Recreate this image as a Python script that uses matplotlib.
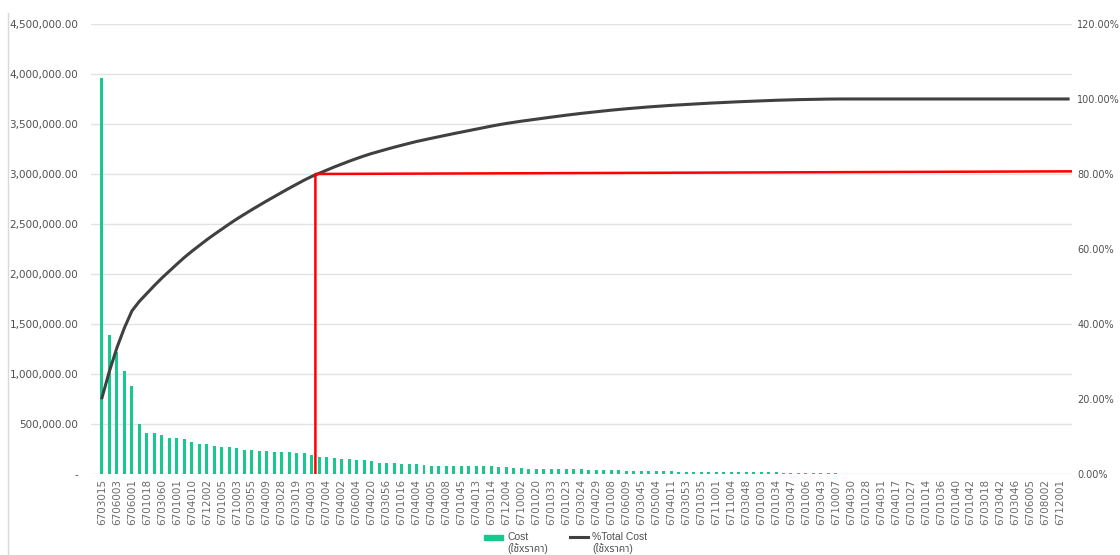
import matplotlib
matplotlib.use("Agg")
import matplotlib.pyplot as plt
import numpy as np
from matplotlib.lines import Line2D
from matplotlib.patches import Rectangle
from matplotlib.ticker import FuncFormatter

# cost per part number (baht), sorted high -> low
cost = [3960000, 1390000, 1220000, 1030000, 880000, 500000, 410000, 410000, 390000, 360000,
        360000, 350000, 320000, 300000, 300000, 280000, 270000, 270000, 260000, 240000,
        240000, 230000, 230000, 220000, 220000, 220000, 210000, 210000, 190000, 165000,
        165000, 162000, 152000, 148000, 142000, 135000, 125000, 112000, 108000, 108000,
        102000, 98000, 98000, 86000, 82000, 82000, 82000, 80000, 78000, 78000,
        78000, 78000, 76000, 72000, 66000, 60000, 58000, 54000, 53000, 52000,
        52000, 52000, 49000, 48000, 46000, 43000, 42000, 42000, 40000, 38000,
        34000, 33000, 32000, 32000, 28000, 27000, 26000, 23000, 23000, 22000,
        22000, 22000, 20000, 19000, 19000, 17000, 16000, 16000, 15000, 15000,
        15000, 13000, 12000, 9000, 8000, 8000, 7000, 6000, 5000] + [0] * 31

# part numbers shown on the axis (every second item)
part_labels = ["6703015", "6706003", "6706001", "6701018", "6703060", "6701001", "6704010",
               "6712002", "6701005", "6710003", "6703055", "6704009", "6703028", "6703019",
               "6704003", "6707004", "6704002", "6706004", "6704020", "6703056", "6701016",
               "6704004", "6704005", "6704008", "6701045", "6704013", "6703014", "6712004",
               "6710002", "6701020", "6701033", "6701023", "6703024", "6704029", "6701008",
               "6706009", "6703045", "6705004", "6704011", "6703053", "6701035", "6711001",
               "6711004", "6703048", "6701003", "6701034", "6703047", "6701006", "6703043",
               "6710007", "6704030", "6701028", "6704031", "6704017", "6701027", "6701014",
               "6701036", "6701040", "6701042", "6703018", "6703042", "6703046", "6706005",
               "6708002", "6712001"]

series_names = ["Cost", "%Total Cost"]
unit_note = "(ใช้xราคา)"

cutoff = 0.80
cutoff_end = 0.807

cost = np.array(cost, dtype=float)
n = len(cost)
x = np.arange(n)
cum = np.cumsum(cost) / cost.sum()
cut_idx = int(np.argmax(cum >= cutoff))

green = "#17C98F"
grey_txt = "#505050"
W, H = 1120, 555

fig = plt.figure(figsize=(11.2, 5.55), dpi=100)
ax = fig.add_axes([0.081, 0.146, 0.876, 0.8108])
ax2 = ax.twinx()

ax.bar(x, cost, width=0.4, color=green, zorder=3)
ax.set_xlim(-1.5, n - 0.5)
ax.set_ylim(0, 4500000)
ax.set_yticks(np.arange(0, 4500001, 500000))
ax.yaxis.set_major_formatter(FuncFormatter(lambda v, p: "-" if v == 0 else "{:,.2f}".format(v)))
ax.grid(axis="y", color="#E3E3E3", lw=1.0, zorder=0)
ax.set_xticks(x[::2])
ax.set_xticklabels(part_labels, rotation=90, fontsize=7.5, color="#6b6b6b")
ax.tick_params(axis="both", length=0)
ax.tick_params(axis="y", labelsize=7.5, labelcolor=grey_txt, pad=9)
for s in ["top", "right", "left", "bottom"]:
    ax.spines[s].set_visible(False)

ax2.plot(x, cum, color="#404040", lw=2.2, zorder=4)
ax2.plot([cut_idx - 0.5, cut_idx - 0.5, n - 0.5], [0, cutoff, cutoff_end],
         color="#FF0000", lw=1.8, zorder=5)
ax2.set_ylim(0, 1.2)
ax2.set_yticks(np.arange(0, 1.21, 0.2))
ax2.yaxis.set_major_formatter(FuncFormatter(lambda v, p: "{:.2f}%".format(v * 100)))
ax2.tick_params(axis="y", length=0, labelsize=7, labelcolor=grey_txt, pad=4)
for s in ["top", "right", "left", "bottom"]:
    ax2.spines[s].set_visible(False)

# thin frame line on the left edge
fig.add_artist(Line2D([8 / W, 8 / W], [0, 1 - 13 / H], color="#D9D9D9", lw=1))

# legend, laid out by hand so the handle sits next to the first text line
thai = ["Liberation Sans", "Noto Sans Thai"]
fig.add_artist(Rectangle((484 / W, 1 - 540 / H), 19 / W, 5 / H, color=green))
fig.add_artist(Line2D([570 / W, 588 / W], [1 - 537 / H, 1 - 537 / H], color="#404040", lw=2.2))
for tx, name in zip([507, 592], series_names):
    fig.text(tx / W, 1 - 537 / H, name, fontsize=7.5, color=grey_txt, va="center", family=thai)
    fig.text(tx / W, 1 - 549 / H, unit_note, fontsize=7.5, color=grey_txt, va="center", family=thai)

fig.savefig("out.png", dpi=100, facecolor="white")
